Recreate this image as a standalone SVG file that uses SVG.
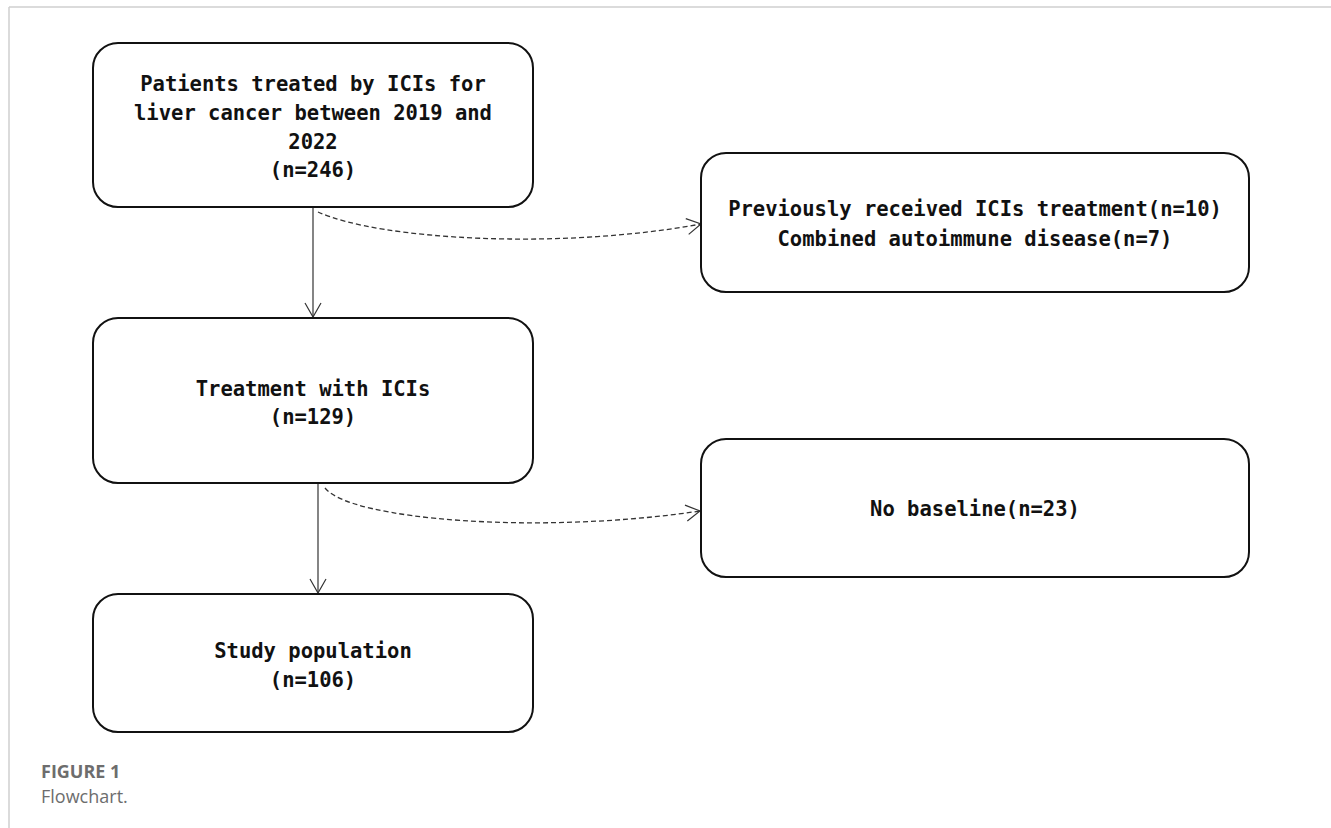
<svg xmlns="http://www.w3.org/2000/svg" width="1331" height="828" viewBox="0 0 1331 828">
<style>
.box{fill:#fff;stroke:#111;stroke-width:2}
.t{font-family:"DejaVu Sans Mono","Liberation Mono",monospace;font-size:20.5px;font-weight:bold;fill:#111;text-anchor:middle}
.solid{fill:none;stroke:#333;stroke-width:1.2}
.dash{fill:none;stroke:#333;stroke-width:1.3;stroke-dasharray:5 3}
.cap1{font-family:"Open Sans","Lato",sans-serif;font-size:18px;font-weight:bold;fill:#6d6d6d}
.cap2{font-family:"Open Sans","Lato",sans-serif;font-size:18px;fill:#6d6d6d}
</style>
<defs>
<marker id="arr" viewBox="0 0 16 18" refX="15" refY="9" markerWidth="16" markerHeight="18" markerUnits="userSpaceOnUse" orient="auto">
<path d="M1,1 L15,9 L1,17" fill="none" stroke="#333" stroke-width="1.2"/>
</marker>
</defs>
<rect width="1331" height="828" fill="#fff"/>
<line x1="9" y1="7" x2="1331" y2="7" stroke="#cfcfcf" stroke-width="1.5"/>
<line x1="9" y1="7" x2="9" y2="828" stroke="#cfcfcf" stroke-width="1.5"/>

<g id="connectors">
<path class="solid" d="M313,208 L313,317" marker-end="url(#arr)"/>
<path class="dash" d="M318,212 C380,240 560,250 701,224" marker-end="url(#arr)"/>
<path class="solid" d="M318,484 L318,593" marker-end="url(#arr)"/>
<path class="dash" d="M325,488 C350,520 540,535 700,511" marker-end="url(#arr)"/>
</g>

<g id="node1">
<rect class="box" x="93" y="43" width="440" height="164" rx="25"/>
<text class="t" x="313" y="91">Patients treated by ICIs for</text>
<text class="t" x="313" y="120">liver cancer between 2019 and</text>
<text class="t" x="313" y="149">2022</text>
<text class="t" x="313" y="177">(n=246)</text>
</g>

<g id="node2">
<rect class="box" x="701" y="153" width="548" height="139" rx="25"/>
<text class="t" x="975" y="216">Previously received ICIs treatment(n=10)</text>
<text class="t" x="975" y="246">Combined autoimmune disease(n=7)</text>
</g>

<g id="node3">
<rect class="box" x="93" y="318" width="440" height="165" rx="25"/>
<text class="t" x="313" y="396">Treatment with ICIs</text>
<text class="t" x="313" y="424">(n=129)</text>
</g>

<g id="node4">
<rect class="box" x="701" y="439" width="548" height="138" rx="25"/>
<text class="t" x="975" y="516">No baseline(n=23)</text>
</g>

<g id="node5">
<rect class="box" x="93" y="594" width="440" height="138" rx="25"/>
<text class="t" x="313" y="658">Study population</text>
<text class="t" x="313" y="687">(n=106)</text>
</g>

<text class="cap1" x="41" y="778">FIGURE 1</text>
<text class="cap2" x="41" y="803">Flowchart.</text>
</svg>
